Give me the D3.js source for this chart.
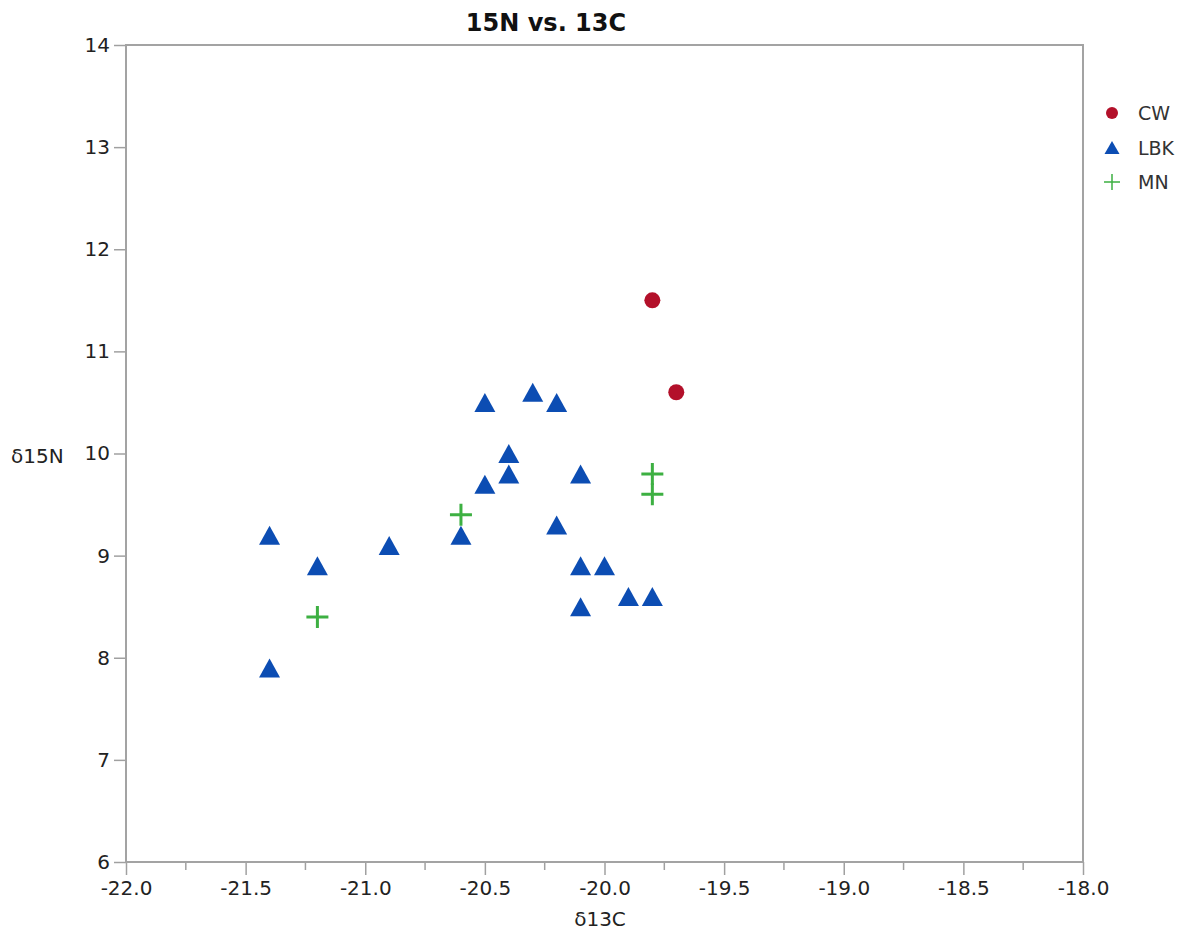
<!DOCTYPE html>
<html>
<head>
<meta charset="utf-8">
<script src="https://cdn.jsdelivr.net/npm/d3@7"></script>
<style>
  body { margin: 0; background: #fff; }
  text { font-family: "DejaVu Sans", sans-serif; }
</style>
</head>
<body>
<div id="chart"></div>
<script>
// data
const groups = ['CW', 'LBK', 'MN'];
const cwC = [-19.8, -19.7];
const cwN = [11.5, 10.6];
const lbkC = [-21.4, -21.4, -21.2, -20.9, -20.6, -20.5, -20.5, -20.4, -20.4, -20.3, -20.2, -20.2, -20.1, -20.1, -20.0, -20.1, -19.9, -19.8];
const lbkN = [9.2, 7.9, 8.9, 9.1, 9.2, 9.7, 10.5, 10.0, 9.8, 10.6, 10.5, 9.3, 9.8, 8.9, 8.9, 8.5, 8.6, 8.6];
const mnC = [-20.6, -21.2, -19.8, -19.8];
const mnN = [9.4, 8.4, 9.8, 9.6];
const xTicks = [-22.0, -21.5, -21.0, -20.5, -20.0, -19.5, -19.0, -18.5, -18.0];
const yTicks = [6, 7, 8, 9, 10, 11, 12, 13, 14];

const width = 1194;
const height = 932;
const margin = { top: 45, right: 111, bottom: 70, left: 126 };

const colors = { CW: '#b3102a', LBK: '#0c4db3', MN: '#3db042' };

const svg = d3.select('#chart')
  .append('svg')
  .attr('width', width)
  .attr('height', height);

const x = d3.scaleLinear().domain([-22, -18]).range([margin.left, width - margin.right]);
const y = d3.scaleLinear().domain([6, 14]).range([height - margin.bottom, margin.top]);

// title
svg.append('text')
  .attr('x', 546)
  .attr('y', 31)
  .attr('text-anchor', 'middle')
  .attr('font-size', 24)
  .attr('font-weight', 'bold')
  .attr('fill', '#111')
  .text('15N vs. 13C');

// plain hyphen for negatives, like the original
const fmt = (d) => d.toFixed(1);

// x axis
const xAxis = svg.append('g')
  .attr('transform', `translate(0,${y(6)})`)
  .call(d3.axisBottom(x).tickValues(xTicks).tickFormat(fmt).tickSize(13).tickPadding(6));

// minor x ticks
const minor = d3.range(-21.75, -18, 0.5);
svg.append('g')
  .selectAll('line')
  .data(minor)
  .enter()
  .append('line')
  .attr('x1', (d) => x(d))
  .attr('x2', (d) => x(d))
  .attr('y1', y(6))
  .attr('y2', y(6) + 8)
  .attr('stroke', '#a0a0a0')
  .attr('stroke-width', 1.5);

// y axis
const yAxis = svg.append('g')
  .attr('transform', `translate(${x(-22)},0)`)
  .call(d3.axisLeft(y).tickValues(yTicks).tickSize(12).tickPadding(4));

[xAxis, yAxis].forEach((g) => {
  g.select('.domain').remove();
  g.selectAll('.tick line').attr('stroke', '#a0a0a0').attr('stroke-width', 1.5);
  g.selectAll('.tick text')
    .attr('font-size', 20)
    .attr('fill', '#222')
    .attr('font-family', '"DejaVu Sans", sans-serif');
});

// frame
svg.append('rect')
  .attr('x', x(-22))
  .attr('y', y(14))
  .attr('width', x(-18) - x(-22))
  .attr('height', y(6) - y(14))
  .attr('fill', 'none')
  .attr('stroke', '#a3a3a3')
  .attr('stroke-width', 2);

// axis labels
svg.append('text')
  .attr('x', 600)
  .attr('y', 926)
  .attr('text-anchor', 'middle')
  .attr('font-size', 20)
  .attr('fill', '#222')
  .text('δ13C');

svg.append('text')
  .attr('x', 11)
  .attr('y', 463)
  .attr('font-size', 20)
  .attr('fill', '#222')
  .text('δ15N');

// markers
const triPath = (w, h) => `M0,${-h / 2}L${w / 2},${h / 2}L${-w / 2},${h / 2}Z`;
const plusPath = (s) => `M${-s},0H${s}M0,${-s}V${s}`;

svg.append('g')
  .selectAll('path')
  .data(lbkC.map((c, i) => ({ c: c, n: lbkN[i] })))
  .enter()
  .append('path')
  .attr('d', triPath(21, 19))
  .attr('transform', (d) => `translate(${x(d.c)},${y(d.n)})`)
  .attr('fill', colors.LBK);

svg.append('g')
  .selectAll('path')
  .data(mnC.map((c, i) => ({ c: c, n: mnN[i] })))
  .enter()
  .append('path')
  .attr('d', plusPath(11))
  .attr('transform', (d) => `translate(${x(d.c)},${y(d.n)})`)
  .attr('stroke', colors.MN)
  .attr('stroke-width', 3)
  .attr('fill', 'none');

svg.append('g')
  .selectAll('circle')
  .data(cwC.map((c, i) => ({ c: c, n: cwN[i] })))
  .enter()
  .append('circle')
  .attr('cx', (d) => x(d.c))
  .attr('cy', (d) => y(d.n))
  .attr('r', 8)
  .attr('fill', colors.CW);

// legend
const legend = svg.append('g')
  .selectAll('g')
  .data(groups)
  .enter()
  .append('g')
  .attr('transform', (d, i) => `translate(1112,${113 + i * 34.5})`);

legend.each(function (d) {
  const g = d3.select(this);
  if (d === 'CW') {
    g.append('circle').attr('r', 6).attr('fill', colors.CW);
  } else if (d === 'LBK') {
    g.append('path').attr('d', triPath(15, 13)).attr('fill', colors.LBK);
  } else {
    g.append('path').attr('d', plusPath(8)).attr('stroke', colors.MN).attr('stroke-width', 1.5);
  }
  g.append('text')
    .attr('x', 26)
    .attr('y', 7)
    .attr('font-size', 19)
    .attr('fill', '#333')
    .text(d);
});
</script>
</body>
</html>
